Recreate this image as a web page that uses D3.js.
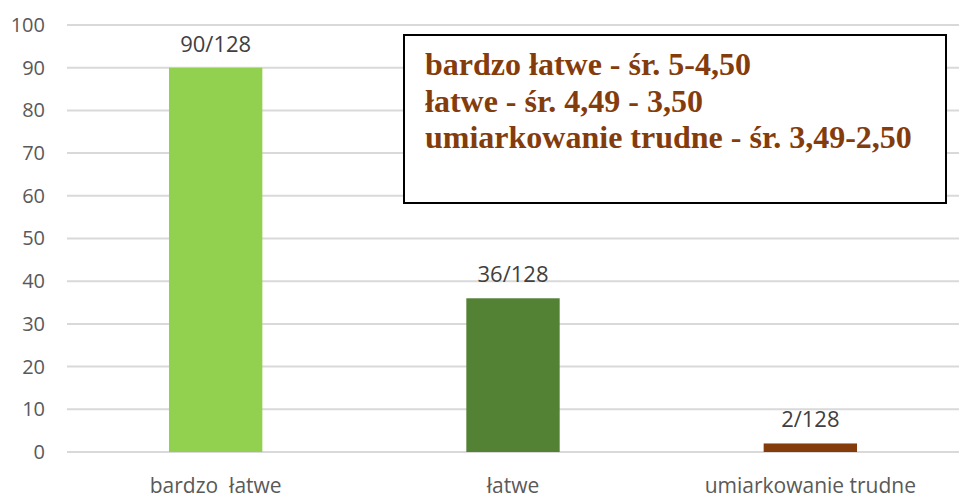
<!DOCTYPE html>
<html>
<head>
<meta charset="utf-8">
<script src="https://cdn.jsdelivr.net/npm/d3@7"></script>
<style>
  body { margin: 0; background: #fff; }
  svg { display: block; }
</style>
</head>
<body>
<div id="container"></div>
<script>
// Dane
var categories = ["bardzo  łatwe", "łatwe", "umiarkowanie trudne"];
var values = [90, 36, 2];
var valueLabels = ["90/128", "36/128", "2/128"];
var barColors = ["#92D050", "#548235", "#843C0C"];
var yTicks = [0, 10, 20, 30, 40, 50, 60, 70, 80, 90, 100];
var legendLines = [
  "bardzo łatwe - śr. 5-4,50",
  "łatwe - śr. 4,49 - 3,50",
  "umiarkowanie trudne - śr. 3,49-2,50"
];

var W = 975, H = 504;
var margin = { top: 25, left: 67, right: 16, bottom: 52 },
  width = W - margin.left - margin.right,
  height = H - margin.top - margin.bottom;

var svg = d3.select("#container")
  .append("svg")
  .attr("width", W)
  .attr("height", H)
  .append("g")
  .attr("transform", "translate(" + margin.left + "," + margin.top + ")");

// Skale
var x = d3.scaleBand()
  .domain(categories)
  .range([0, width])
  .paddingInner(0.686)
  .paddingOuter(0.343);

var y = d3.scaleLinear()
  .domain([0, 100])
  .range([height, 0]);

var font = "'Liberation Sans Narrow', 'Open Sans', sans-serif";

// Siatka
svg.selectAll(".grid")
  .data(yTicks)
  .enter().append("line")
  .attr("x1", 0)
  .attr("x2", width)
  .attr("y1", function(d) { return y(d) })
  .attr("y2", function(d) { return y(d) })
  .attr("stroke", "#d9d9d9")
  .attr("stroke-width", 2);

// Oś Y
var yAxis = svg.append("g")
  .call(d3.axisLeft(y).tickValues(yTicks).tickSize(0).tickPadding(22));
yAxis.select(".domain").remove();
yAxis.selectAll("text")
  .attr("fill", "#595959")
  .attr("font-family", font)
  .attr("font-size", 20);

// Oś X
var xAxis = svg.append("g")
  .attr("transform", "translate(0," + height + ")")
  .call(d3.axisBottom(x).tickSize(0).tickPadding(26));
xAxis.select(".domain").remove();
xAxis.selectAll("text")
  .attr("fill", "#595959")
  .attr("font-family", font)
  .attr("font-size", 21)
  .style("white-space", "pre");

// Słupki
svg.selectAll(".bar")
  .data(values)
  .enter().append("rect")
  .attr("x", function(d, i) { return x(categories[i]) })
  .attr("y", function(d) { return y(d) })
  .attr("width", x.bandwidth())
  .attr("height", function(d) { return height - y(d) })
  .attr("fill", function(d, i) { return barColors[i] });

// Etykiety wartości
svg.selectAll(".value-label")
  .data(values)
  .enter().append("text")
  .attr("x", function(d, i) { return x(categories[i]) + x.bandwidth() / 2 })
  .attr("y", function(d) { return y(d) - 16 })
  .attr("text-anchor", "middle")
  .attr("fill", "#404040")
  .attr("font-family", font)
  .attr("font-size", 22)
  .text(function(d, i) { return valueLabels[i] });

// Legenda w ramce
var box = svg.append("g")
  .attr("transform", "translate(" + (404 - margin.left) + "," + (35 - margin.top) + ")");

box.append("rect")
  .attr("width", 542)
  .attr("height", 168)
  .attr("fill", "#fff")
  .attr("stroke", "#000")
  .attr("stroke-width", 2);

box.selectAll("text")
  .data(legendLines)
  .enter().append("text")
  .attr("x", 21)
  .attr("y", function(d, i) { return 40 + i * 36.5 })
  .attr("fill", "#843C0C")
  .attr("font-family", "'Liberation Serif', 'DejaVu Serif', serif")
  .attr("font-weight", "bold")
  .attr("font-size", 32)
  .text(function(d) { return d });
</script>
</body>
</html>
